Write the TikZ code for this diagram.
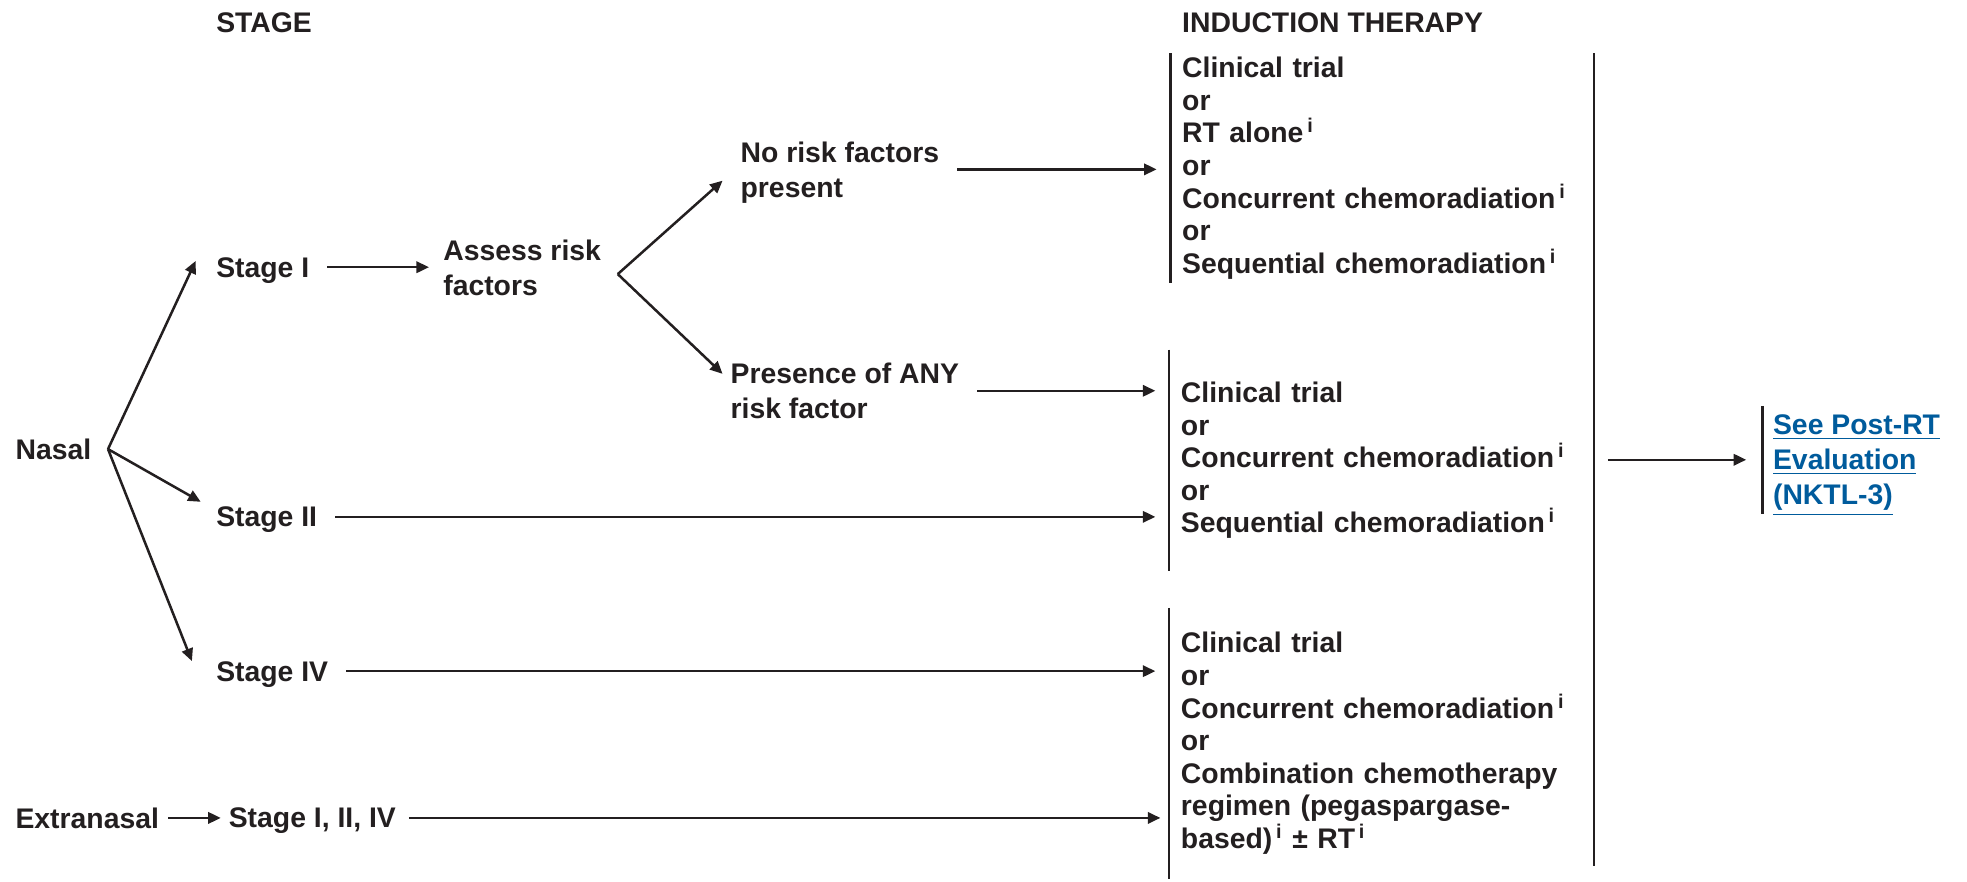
\documentclass[tikz,border=0pt]{standalone}
\usepackage{fontspec}
\setmainfont{Liberation Sans}
\usepackage{tikz}
\usetikzlibrary{arrows.meta}
\definecolor{ink}{HTML}{231F20}
\definecolor{link}{RGB}{0,91,156}
\newcommand{\fnote}[1]{\textsuperscript{\kern1.5pt#1}}

\begin{document}
\begin{tikzpicture}[
  x=0.5pt, y=-0.5pt,
  font=\fontsize{11.3}{14}\selectfont\bfseries,
  every node/.append style={text=ink},
  lab/.style={anchor=west, inner sep=0pt, align=left, text depth=0pt},
  opt/.style={anchor=west, inner xsep=4.5pt, inner ysep=0pt, align=left, text width=159.5pt, font=\fontsize{11.3}{13}\selectfont\bfseries},
  arr/.style={-{Triangle[length=5pt,width=4.5pt]}, draw=ink, line width=1pt, shorten <=7pt, shorten >=5.5pt},
  fan/.style={-{Triangle[length=5pt,width=4.5pt]}, draw=ink, line width=1pt},
  bar/.style={draw=ink, line width=0.9pt}
]
\useasboundingbox (0,0) rectangle (1568,703);
\node[lab] (stage) at (172,18) {STAGE};
\node[lab] (induct) at (942,18) {INDUCTION THERAPY};
\node[lab] (nasal) at (12,358) {Nasal};
\node[lab] (s1) at (172,213) {Stage I};
\node[lab] (assess) at (353,213.5) {Assess risk\\factors};
\node[lab] (norisk) at (590,135) {No risk factors\\present};
\node[lab] (anyrisk) at (582,311.5) {Presence of ANY\\risk factor};
\node[lab] (s2) at (172,412) {Stage II};
\node[lab] (s4) at (172,535) {Stage IV};
\node[lab] (extra) at (12,652) {Extranasal};
\node[lab] (sall) at (182,652) {Stage I, II, IV};
\node[opt, minimum height=91pt] (b1) at (933,134) {Clinical trial\\or\\RT alone\fnote{i}\\or\\Concurrent chemoradiation\fnote{i}\\or\\Sequential chemoradiation\fnote{i}};
\node[opt, minimum height=88pt] (b2) at (932,367) {Clinical trial\\or\\Concurrent chemoradiation\fnote{i}\\or\\Sequential chemoradiation\fnote{i}};
\node[opt, minimum height=107.5pt] (b3) at (932,592.5) {Clinical trial\\or\\Concurrent chemoradiation\fnote{i}\\or\\Combination chemotherapy\\regimen (pegaspargase-\\based)\fnote{i} ± RT\fnote{i}};
\node[lab, text=link, inner xsep=4pt, minimum height=42.5pt] (post) at (1405,366.5) {\underline{See Post-RT}\\\underline{Evaluation}\\\underline{(NKTL-3)}};

\coordinate (nfork) at ([xshift=6.5pt]nasal.east);
\coordinate (afork) at ([shift={(13,5)}]assess.east);
\coordinate (merge) at (b1.east |- post.west);

\draw[fan] (nfork) -- ([shift={(-16,-5)}]s1.west);
\draw[fan] (nfork) -- ([shift={(-12,-12)}]s2.west);
\draw[fan] (nfork) -- ([shift={(-19,-8)}]s4.west);
\draw[arr] (s1.east) -- (s1.east -| assess.west);
\draw[fan] (afork) -- ([shift={(-14,9)}]norisk.west);
\draw[fan] (afork) -- ([shift={(-6,-13.5)}]anyrisk.west);
\draw[arr] (norisk.east) -- (norisk.east -| b1.west);
\draw[arr] (anyrisk.east) -- (anyrisk.east -| b2.west);
\draw[arr] (s2.east) -- (s2.east -| b2.west);
\draw[arr] (s4.east) -- (s4.east -| b3.west);
\draw[arr, shorten <=3.5pt, shorten >=3pt] (extra.east) -- (sall.west);
\draw[arr, shorten <=5pt, shorten >=3.5pt] (sall.east) -- (sall.east -| b3.west);

\draw[bar] (b1.north west) -- (b1.south west);
\draw[bar] (b2.north west) -- (b2.south west);
\draw[bar] (b3.north west) -- (b3.south west);
\draw[bar] (b1.north east) -- ([yshift=5pt]b1.east |- b3.south);
\draw[bar] (post.north west) -- (post.south west);
\draw[arr, shorten <=5.5pt, shorten >=6.5pt] (merge) -- (post.west);
\end{tikzpicture}
\end{document}
